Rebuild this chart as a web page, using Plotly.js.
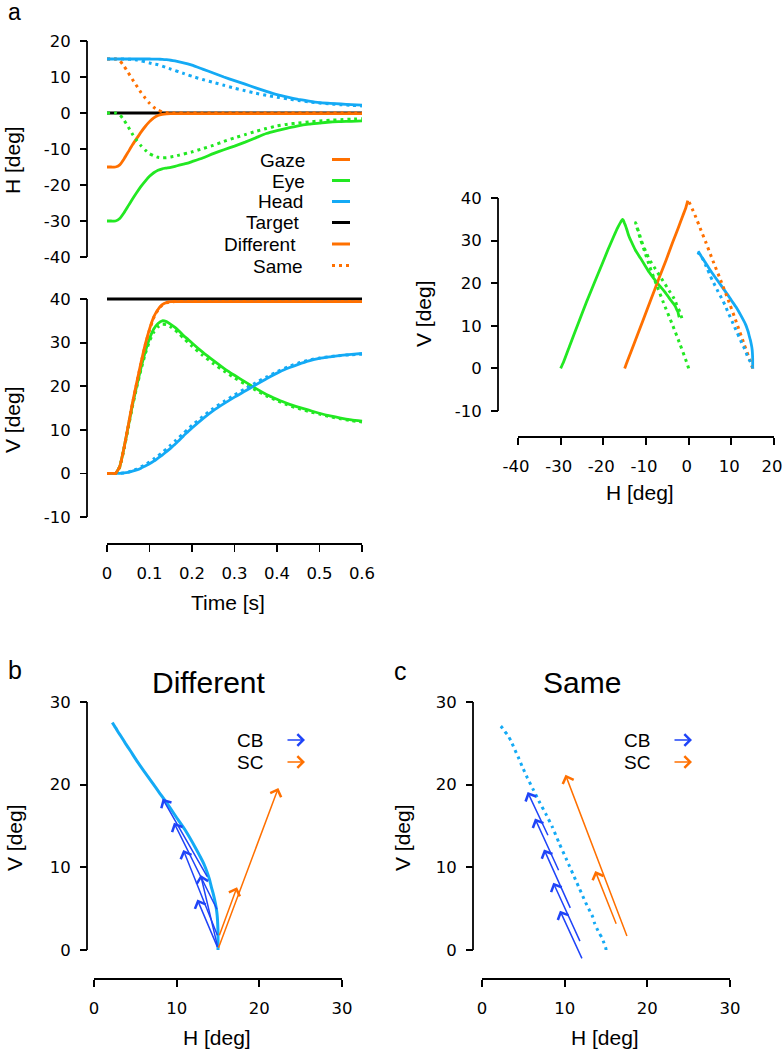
<!DOCTYPE html>
<html><head><meta charset="utf-8">
<script src="https://cdn.plot.ly/plotly-3.0.1.min.js"></script>
<style>html,body{margin:0;padding:0;background:#fff}</style>
</head><body><div id="chart" style="width:783px;height:1050px"></div>
<script>
// ---------- data ----------
const time = [0,0.01,0.02,0.03,0.04,0.05,0.06,0.07,0.08,0.09,0.10,0.11,0.12,0.13,0.14,0.15,0.16,0.17,0.18,0.19,0.20,
  0.225,0.25,0.275,0.30,0.325,0.35,0.375,0.40,0.425,0.45,0.475,0.50,0.525,0.55,0.575,0.60];

// Different condition
const gazeH_diff = [-15,-15,-15,-14.4,-12.75,-10.8,-8.85,-7.05,-5.3,-3.75,-2.4,-1.35,-0.7,-0.4,-0.25,-0.2,-0.2,-0.2,-0.2,-0.2,-0.2,
  -0.2,-0.2,-0.2,-0.2,-0.2,-0.2,-0.2,-0.2,-0.2,-0.2,-0.2,-0.2,-0.2,-0.2,-0.2,-0.2];
const gazeV_diff = [0,0,0,1.6,5.9,11.0,16.2,20.9,25.4,29.6,33.1,35.9,37.6,38.7,39.2,39.4,39.4,39.4,39.4,39.4,39.4,
  39.4,39.4,39.4,39.4,39.4,39.4,39.4,39.4,39.4,39.4,39.4,39.4,39.4,39.4,39.4,39.4];
const eyeH_diff = [-30,-30,-30,-29.3,-27.7,-25.8,-23.9,-22.1,-20.4,-18.9,-17.6,-16.6,-15.9,-15.5,-15.3,-15.1,-14.8,-14.5,-14.2,-13.9,-13.5,
  -12.5,-11.3,-10.2,-9.2,-8.1,-6.9,-5.7,-4.9,-4.2,-3.55,-3.1,-2.8,-2.5,-2.4,-2.3,-2.2];
const eyeV_diff = [0,0,0,1.55,5.8,10.75,15.7,20.1,24.2,27.9,30.9,33.1,34.4,35.0,34.8,34.2,33.5,32.6,31.6,30.8,29.9,
  27.8,25.9,24.1,22.5,21.0,19.5,18.1,17.0,16.0,15.2,14.5,13.8,13.2,12.7,12.3,12.0];
const headH_diff = [15,15,15,15,15,15,15,15,15,15,15,14.98,14.95,14.9,14.8,14.65,14.45,14.2,13.95,13.65,13.3,
  12.2,11.1,10.0,9.0,8.0,7.0,6.0,5.1,4.4,3.8,3.3,2.9,2.7,2.5,2.35,2.2];
const headV_diff = [0,0,0,0.02,0.1,0.25,0.5,0.8,1.2,1.7,2.2,2.8,3.5,4.2,5.0,5.8,6.7,7.6,8.6,9.5,10.4,
  12.5,14.4,16.0,17.5,18.9,20.3,21.7,23.0,24.1,25.0,25.8,26.4,26.75,27.05,27.3,27.5];

// Same condition
const gazeH_same = [15,15,15,14.5,13.0,11.2,9.3,7.5,5.7,4.1,2.7,1.6,0.8,0.3,0.1,0,0,0,0,0,0,
  0,0,0,0,0,0,0,0,0,0,0,0,0,0,0,0];
const gazeV_same = [0,0,0,1.5,5.7,10.8,16.0,20.7,25.2,29.4,32.9,35.7,37.5,38.6,39.1,39.3,39.4,39.4,39.4,39.4,39.4,
  39.4,39.4,39.4,39.4,39.4,39.4,39.4,39.4,39.4,39.4,39.4,39.4,39.4,39.4,39.4,39.4];
const eyeH_same = [0,0,0,-0.5,-2.0,-3.9,-5.9,-7.6,-9.1,-10.3,-11.3,-11.9,-12.3,-12.45,-12.4,-12.2,-12.0,-11.7,-11.4,-11.1,-10.8,
  -9.9,-9.0,-7.9,-6.9,-6.0,-5.1,-4.3,-3.6,-3.1,-2.8,-2.5,-2.2,-2.0,-1.85,-1.7,-1.6];
const eyeV_same = [0,0,0,1.5,5.6,10.5,15.4,19.8,23.8,27.4,30.3,32.4,33.6,34.2,34.1,33.6,32.9,32.0,31.0,30.1,29.2,
  27.1,25.2,23.5,21.9,20.5,19.1,17.8,16.7,15.7,14.9,14.2,13.6,13.0,12.5,12.1,11.8];
const headH_same = [15,15,15,15,15,14.95,14.85,14.7,14.5,14.2,13.9,13.6,13.4,13.0,12.6,12.2,11.8,11.4,11.0,10.6,10.2,
  9.3,8.5,7.7,6.9,6.2,5.5,4.9,4.4,3.9,3.5,3.1,2.75,2.5,2.3,2.12,1.97];
const headV_same = [0,0,0,0.03,0.1,0.3,0.6,1.0,1.5,2.0,2.6,3.3,4.0,4.8,5.6,6.5,7.4,8.3,9.2,10.1,11.0,
  13.0,14.9,16.5,18.0,19.4,20.8,22.1,23.3,24.4,25.3,26.0,26.45,26.8,27.05,27.22,27.35];

// Target
const targetTime = [0, 0.6];
const targetH = [0, 0];
const targetV = [40, 40];

// Panel b (Different) command arrows: tail -> head
const cbDiffTailH = [15.0, 15.0, 15.0, 14.96, 13.8];
const cbDiffTailV = [0.2, 0.2, 1.6, 4.75, 8.7];
const cbDiffHeadH = [12.5, 12.9, 10.8, 9.67, 8.3];
const cbDiffHeadV = [6.1, 9.07, 12.1, 15.4, 18.3];
const scDiffTailH = [15.0, 15.1];
const scDiffTailV = [0.1, 1.6];
const scDiffHeadH = [22.3, 17.3];
const scDiffHeadV = [19.6, 7.6];

// Panel c (Same) command arrows
const cbSameTailH = [12.17, 11.93, 10.76, 9.35, 8.06];
const cbSameTailV = [-1.2, 0.89, 4.92, 9.47, 13.7];
const cbSameHeadH = [9.43, 8.62, 7.5, 6.41, 5.52];
const cbSameHeadV = [4.76, 8.14, 12.17, 15.9, 19.1];
const scSameTailH = [17.6, 16.3];
const scSameTailV = [1.5, 3.0];
const scSameHeadH = [10.1, 13.7];
const scSameHeadV = [21.2, 9.55];

// Ticks
const timeTicks = [0, 0.1, 0.2, 0.3, 0.4, 0.5, 0.6];
const timeTickText = ['0', '0.1', '0.2', '0.3', '0.4', '0.5', '0.6'];
const hTimeTicks = [-40, -30, -20, -10, 0, 10, 20];
const hTimeTickText = ['-40', '-30', '-20', '-10', '0', '10', '20'];
const vTimeTicks = [-10, 0, 10, 20, 30, 40];
const vTimeTickText = ['-10', '0', '10', '20', '30', '40'];
const trajHTicks = [-40, -30, -20, -10, 0, 10, 20];
const trajHTickText = ['-40', '-30', '-20', '-10', '0', '10', '20'];
const trajVTicks = [-10, 0, 10, 20, 30, 40];
const trajVTickText = ['-10', '0', '10', '20', '30', '40'];
const cmdTicks = [0, 10, 20, 30];
const cmdTickText = ['0', '10', '20', '30'];

const legendLabels = ['Gaze', 'Eye', 'Head', 'Target', 'Different', 'Same'];

// ---------- styling / layout ----------
const W = 783, H = 1050;
const FONT = 'Liberation Sans, Arial, Helvetica, sans-serif';
const TICKFONT = 'DejaVu Sans, Liberation Sans, sans-serif';
const ORANGE = '#ff7000', GREEN = '#22e822', BLUE = '#14aaf5', BLACK = '#000000', DBLUE = '#1f44f8';
const LW = 2.8, DOT = '3px,4px';

function xAx(v0, p0, v1, p1, d0, d1) {
  const k = (v1 - v0) / (p1 - p0);
  return { domain: [d0 / W, d1 / W], range: [v0 + (d0 - p0) * k, v0 + (d1 - p0) * k] };
}
function yAx(v0, p0, v1, p1, dTop, dBot) {
  const k = (v1 - v0) / (p1 - p0);
  return { domain: [1 - dBot / H, 1 - dTop / H], range: [v0 + (dBot - p0) * k, v0 + (dTop - p0) * k] };
}
const axBase = {
  showgrid: false, zeroline: false, showline: false, ticks: 'outside', ticklen: 7, tickwidth: 1.8,
  tickcolor: '#000', tickfont: { family: TICKFONT, size: 16.5, color: '#000' }, anchor: 'free',
  fixedrange: true, tickmode: 'array', ticklabeloverflow: 'allow'
};
function mkX(geom, posPy, vals, text, extra) {
  return Object.assign({}, axBase, geom, { position: 1 - posPy / H, tickvals: vals, ticktext: text, ticklabelstandoff: 7 }, extra || {});
}
function mkY(geom, posPx, vals, text) {
  return Object.assign({}, axBase, geom, { position: posPx / W, tickvals: vals, ticktext: text, ticklabelstandoff: 6 });
}

function tr(x, y, xa, ya, color, dotted, w) {
  return {
    type: 'scatter', mode: 'lines', x: x, y: y, xaxis: xa, yaxis: ya, hoverinfo: 'skip', showlegend: false,
    line: { color: color, width: w || (dotted ? 3 : LW), dash: dotted ? DOT : 'solid', shape: 'spline', smoothing: 0.5 }
  };
}

const traces = [
  // a: H vs time
  tr(targetTime, targetH, 'x', 'y', BLACK, false),
  tr(time, eyeH_diff, 'x', 'y', GREEN, false),
  tr(time, gazeH_diff, 'x', 'y', ORANGE, false),
  tr(time, headH_diff, 'x', 'y', BLUE, false),
  tr(time, eyeH_same, 'x', 'y', GREEN, true),
  tr(time, gazeH_same, 'x', 'y', ORANGE, true),
  tr(time, headH_same, 'x', 'y', BLUE, true),
  // a: V vs time
  tr(targetTime, targetV, 'x2', 'y2', BLACK, false),
  tr(time, eyeV_diff, 'x2', 'y2', GREEN, false),
  tr(time, headV_diff, 'x2', 'y2', BLUE, false),
  tr(time, eyeV_same, 'x2', 'y2', GREEN, true),
  tr(time, headV_same, 'x2', 'y2', BLUE, true),
  tr(time, gazeV_same, 'x2', 'y2', ORANGE, true),
  tr(time, gazeV_diff, 'x2', 'y2', ORANGE, false),
  // a: V vs H
  tr(eyeH_diff, eyeV_diff, 'x3', 'y3', GREEN, false),
  tr(gazeH_diff, gazeV_diff, 'x3', 'y3', ORANGE, false),
  tr(headH_diff, headV_diff, 'x3', 'y3', BLUE, false),
  tr(eyeH_same, eyeV_same, 'x3', 'y3', GREEN, true),
  tr(gazeH_same, gazeV_same, 'x3', 'y3', ORANGE, true),
  tr(headH_same, headV_same, 'x3', 'y3', BLUE, true),
  // b, c: head trajectories
  tr(headH_diff, headV_diff, 'x4', 'y4', BLUE, false, 3),
  tr(headH_same, headV_same, 'x5', 'y5', BLUE, true, 3)
];

// axis geometry (value -> pixel pairs measured from reference)
const gX1 = xAx(0, 107, 0.6, 362, 100, 369);
const gY1 = yAx(20, 41, -40, 257, 35, 262);
const gX2 = xAx(0, 107, 0.6, 362, 100, 369);
const gY2 = yAx(40, 299, -10, 517, 290, 525);
const gX3 = xAx(-40, 518, 20, 774, 505, 780);
const gY3 = yAx(40, 198, -10, 411, 185, 420);
const gX4 = xAx(0, 94, 30, 342, 90, 350);
const gY4 = yAx(30, 702, 0, 950, 690, 965);
const gX5 = xAx(0, 482, 30, 730, 478, 745);
const gY5 = yAx(30, 702, 0, 950, 690, 965);

const layout = {
  width: W, height: H, margin: { l: 0, r: 0, t: 0, b: 0 },
  paper_bgcolor: '#fff', plot_bgcolor: 'rgba(0,0,0,0)', showlegend: false,
  font: { family: FONT, color: '#000' },
  xaxis: Object.assign({}, gX1, { visible: false, fixedrange: true }),
  yaxis: mkY(gY1, 87, hTimeTicks, hTimeTickText),
  xaxis2: mkX(gX2, 544, timeTicks, timeTickText),
  yaxis2: mkY(gY2, 87, vTimeTicks, vTimeTickText),
  xaxis3: mkX(gX3, 437, trajHTicks, trajHTickText, { ticklabelshift: -2 }),
  yaxis3: mkY(gY3, 498, trajVTicks, trajVTickText),
  xaxis4: mkX(gX4, 979, cmdTicks, cmdTickText),
  yaxis4: mkY(gY4, 87, cmdTicks, cmdTickText),
  xaxis5: mkX(gX5, 979, cmdTicks, cmdTickText),
  yaxis5: mkY(gY5, 473, cmdTicks, cmdTickText),
  shapes: [], annotations: []
};

// axis lines (span only the tick range, R style)
function vLine(px, yref, v0, v1) {
  return { type: 'line', xref: 'paper', yref: yref, x0: px / W, x1: px / W, y0: v0, y1: v1, line: { color: '#000', width: 1.8 } };
}
function hLine(py, xref, v0, v1) {
  return { type: 'line', xref: xref, yref: 'paper', x0: v0, x1: v1, y0: 1 - py / H, y1: 1 - py / H, line: { color: '#000', width: 1.8 } };
}
layout.shapes.push(
  vLine(87, 'y', hTimeTicks[0], hTimeTicks[hTimeTicks.length - 1]),
  vLine(87, 'y2', vTimeTicks[0], vTimeTicks[vTimeTicks.length - 1]),
  hLine(544, 'x2', timeTicks[0], timeTicks[timeTicks.length - 1]),
  vLine(498, 'y3', trajVTicks[0], trajVTicks[trajVTicks.length - 1]),
  hLine(437, 'x3', trajHTicks[0], trajHTicks[trajHTicks.length - 1]),
  vLine(87, 'y4', cmdTicks[0], cmdTicks[cmdTicks.length - 1]),
  hLine(979, 'x4', cmdTicks[0], cmdTicks[cmdTicks.length - 1]),
  vLine(473, 'y5', cmdTicks[0], cmdTicks[cmdTicks.length - 1]),
  hLine(979, 'x5', cmdTicks[0], cmdTicks[cmdTicks.length - 1])
);

function txt(text, px, py, size, extra) {
  return Object.assign({
    xref: 'paper', yref: 'paper', x: px / W, y: 1 - py / H, text: text, showarrow: false,
    font: { family: FONT, size: size, color: '#000' }, xanchor: 'center', yanchor: 'middle'
  }, extra || {});
}
const A = layout.annotations;
// panel letters & titles
A.push(txt('a', 15, 12, 23), txt('b', 15, 670, 25), txt('c', 401, 670.5, 25));
A.push(txt('Different', 209, 682, 30), txt('Same', 582, 682, 30));
// axis titles
A.push(
  txt('H [deg]', 12, 160, 21, { textangle: -90 }),
  txt('V [deg]', 12, 420, 21, { textangle: -90 }),
  txt('Time [s]', 228, 602, 21),
  txt('V [deg]', 424, 314, 21, { textangle: -90 }),
  txt('H [deg]', 640, 493, 21),
  txt('V [deg]', 14, 838, 21, { textangle: -90 }),
  txt('H [deg]', 217, 1037, 21),
  txt('V [deg]', 402, 838, 21, { textangle: -90 }),
  txt('H [deg]', 605, 1037, 21)
);
// legend of panel a
const legRight = [306.7, 306.7, 305, 302, 297.7, 305];
const legY = [160, 181, 202, 223, 244.5, 266];
const legColor = [ORANGE, GREEN, BLUE, BLACK, ORANGE, ORANGE];
const legDot = [false, false, false, false, false, true];
legendLabels.forEach(function (lab, i) {
  A.push(txt(lab, legRight[i], legY[i], 19, { xanchor: 'right' }));
  layout.shapes.push({
    type: 'line', xref: 'paper', yref: 'paper', x0: 332 / W, x1: 350 / W,
    y0: 1 - (legY[i] - 0.5) / H, y1: 1 - (legY[i] - 0.5) / H,
    line: { color: legColor[i], width: 3, dash: legDot[i] ? DOT : 'solid' }
  });
});
// CB / SC keys in panels b and c
function keyArrow(tipPx, py, color) {
  return {
    xref: 'paper', yref: 'paper', x: tipPx / W, y: 1 - py / H, ax: -19, ay: 0, text: '',
    showarrow: true, arrowhead: 4, arrowsize: 1.5, arrowwidth: 1.5, arrowcolor: color
  };
}
A.push(txt('CB', 265, 740, 19, { xanchor: 'right' }), txt('SC', 265, 762, 19, { xanchor: 'right' }));
A.push(keyArrow(305, 740, DBLUE), keyArrow(305, 762, ORANGE));
A.push(txt('CB', 651.7, 740, 19, { xanchor: 'right' }), txt('SC', 651.7, 762, 19, { xanchor: 'right' }));
A.push(keyArrow(692, 740, DBLUE), keyArrow(692, 762, ORANGE));

// command arrows
function dataArrows(xa, ya, tH, tV, hH, hV, color) {
  hH.forEach(function (_, i) {
    A.push({
      xref: xa, yref: ya, axref: xa, ayref: ya, x: hH[i], y: hV[i], ax: tH[i], ay: tV[i], text: '',
      showarrow: true, arrowhead: 4, arrowsize: 1.5, arrowwidth: 1.5, arrowcolor: color, standoff: 0
    });
  });
}
dataArrows('x4', 'y4', cbDiffTailH, cbDiffTailV, cbDiffHeadH, cbDiffHeadV, DBLUE);
dataArrows('x4', 'y4', scDiffTailH, scDiffTailV, scDiffHeadH, scDiffHeadV, ORANGE);
dataArrows('x5', 'y5', cbSameTailH, cbSameTailV, cbSameHeadH, cbSameHeadV, DBLUE);
dataArrows('x5', 'y5', scSameTailH, scSameTailV, scSameHeadH, scSameHeadV, ORANGE);

Plotly.newPlot('chart', traces, layout, { staticPlot: true, displayModeBar: false });
</script>
</body></html>
